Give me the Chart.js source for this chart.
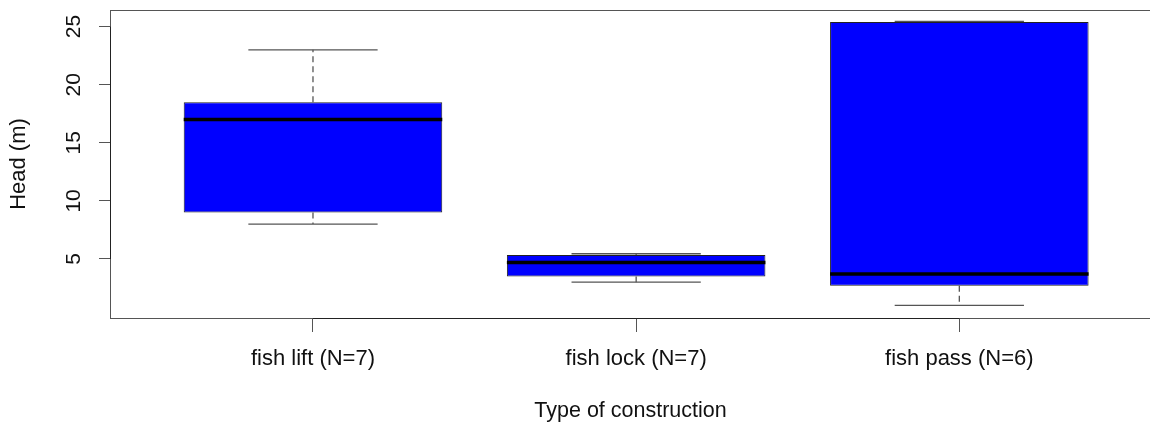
<!DOCTYPE html>
<html>
<head>
<meta charset="utf-8">
<script src="https://cdn.jsdelivr.net/npm/chart.js@4/dist/chart.umd.min.js"></script>
<style>
  html, body { margin: 0; padding: 0; background: #fff; }
  #wrap { width: 1150px; height: 424px; }
</style>
</head>
<body>
<div id="wrap"><canvas id="chartOfHead"></canvas></div>
<script>
// Values
const categories = ["fish lift (N=7)", "fish lock (N=7)", "fish pass (N=6)"]
const positions = [1, 2, 3]
const whiskerLow = [8, 3, 1]
const lowerQuartile = [9, 3.5, 2.7]
const median = [17, 4.7, 3.7]
const upperQuartile = [18.5, 5.35, 25.4]
const whiskerHigh = [23, 5.45, 25.45]
const yTicks = [5, 10, 15, 20, 25]

const boxHalf = 0.4
const capHalf = 0.2

function segments(fn) {
    let points = []
    for (let i = 0; i < positions.length; i++) {
        points = points.concat(fn(positions[i], i))
    }
    return points
}

const whiskerPoints = segments((p, i) => [
    {x: p, y: upperQuartile[i]}, {x: p, y: whiskerHigh[i]}, {x: p, y: null},
    {x: p, y: lowerQuartile[i]}, {x: p, y: whiskerLow[i]}, {x: p, y: null}
])
const capPoints = segments((p, i) => [
    {x: p - capHalf, y: whiskerHigh[i]}, {x: p + capHalf, y: whiskerHigh[i]}, {x: p, y: null},
    {x: p - capHalf, y: whiskerLow[i]}, {x: p + capHalf, y: whiskerLow[i]}, {x: p, y: null}
])
const medianPoints = segments((p, i) => [
    {x: p - boxHalf, y: median[i]}, {x: p + boxHalf, y: median[i]}, {x: p, y: null}
])
const boxes = positions.map((p, i) => ({x: p, y: [lowerQuartile[i], upperQuartile[i]]}))

// Box round the plot region (its right side runs off the picture) plus the R style axis lines
const frame = {
    id: 'frame',
    beforeDatasetsDraw(chart) {
        const {ctx, chartArea: a, scales} = chart
        ctx.save()
        ctx.strokeStyle = '#555'
        ctx.lineWidth = 1
        ctx.strokeRect(a.left - 0.5, a.top + 0.5, a.right - a.left + 5, a.bottom - a.top)
        ctx.strokeStyle = '#222'
        ctx.beginPath()
        ctx.moveTo(scales.x.getPixelForValue(positions[0]), a.bottom + 0.5)
        ctx.lineTo(scales.x.getPixelForValue(positions[positions.length - 1]), a.bottom + 0.5)
        ctx.moveTo(a.left - 0.5, scales.y.getPixelForValue(yTicks[0]))
        ctx.lineTo(a.left - 0.5, scales.y.getPixelForValue(yTicks[yTicks.length - 1]))
        ctx.stroke()
        ctx.restore()
    }
}

function noPadding(scale) {
    scale.paddingTop = 0
    scale.paddingBottom = 0
    scale.paddingLeft = 0
    scale.paddingRight = 0
}

Chart.defaults.font.family = '"Liberation Sans", Arial, Helvetica, sans-serif'
Chart.defaults.color = '#111'

const chartOfHead = document.getElementById("chartOfHead")

new Chart(chartOfHead, {
    type: 'bar',
    data: {
        datasets: [
            {
                type: 'line',
                data: medianPoints,
                borderColor: '#000',
                borderWidth: 3.5,
                borderCapStyle: 'butt',
                pointRadius: 0,
                spanGaps: false,
                order: 0
            },
            {
                type: 'line',
                data: whiskerPoints,
                borderColor: '#555',
                borderWidth: 1.3,
                borderDash: [6, 4],
                pointRadius: 0,
                spanGaps: false,
                order: 1
            },
            {
                type: 'line',
                data: capPoints,
                borderColor: '#555',
                borderWidth: 1.3,
                pointRadius: 0,
                spanGaps: false,
                order: 1
            },
            {
                type: 'bar',
                label: 'Head',
                data: boxes,
                backgroundColor: '#0000ff',
                borderColor: '#222',
                borderWidth: 1,
                borderSkipped: false,
                barPercentage: 1,
                categoryPercentage: 0.8,
                order: 2
            }
        ]
    },
    options: {
        responsive: true,
        maintainAspectRatio: false,
        animation: false,
        layout: { padding: { top: 10, right: 0, left: 0, bottom: 0 } },
        plugins: {
            legend: { display: false },
            tooltip: { enabled: false }
        },
        scales: {
            x: {
                type: 'linear',
                min: 0.375,
                max: 3.59,
                offset: false,
                afterBuildTicks: (scale) => { scale.ticks = positions.map(v => ({value: v})) },
                afterFit: (scale) => { scale.height = 106; noPadding(scale) },
                grid: { offset: false, drawOnChartArea: false, tickLength: 14, tickColor: '#555', tickWidth: 1 },
                border: { display: false },
                ticks: {
                    callback: (value) => categories[positions.indexOf(value)],
                    font: { size: 22 },
                    padding: 14,
                    maxRotation: 0,
                    autoSkip: false
                },
                title: {
                    display: true,
                    text: 'Type of construction',
                    font: { size: 21.5, lineHeight: 1.2 },
                    padding: { top: 0, bottom: 0 }
                }
            },
            y: {
                type: 'linear',
                min: -0.08,
                max: 26.43,
                afterBuildTicks: (scale) => { scale.ticks = yTicks.map(v => ({value: v})) },
                afterFit: (scale) => { scale.width = 111; noPadding(scale) },
                grid: { drawOnChartArea: false, tickLength: 12, tickColor: '#555', tickWidth: 1 },
                border: { display: false },
                ticks: {
                    font: { size: 21 },
                    minRotation: 90,
                    maxRotation: 90,
                    crossAlign: 'center',
                    padding: 13
                },
                title: {
                    display: true,
                    text: 'Head (m)',
                    font: { size: 22, lineHeight: 1.2 },
                    padding: { top: 6, bottom: 0 }
                }
            }
        }
    },
    plugins: [frame]
})
</script>
</body>
</html>
